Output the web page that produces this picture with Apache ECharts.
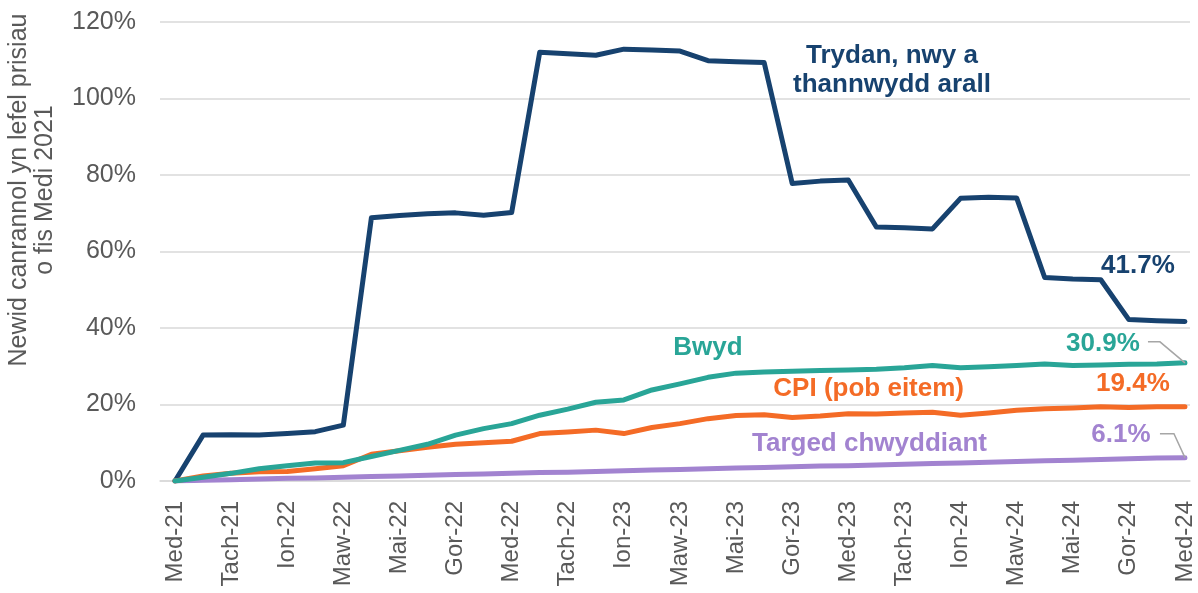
<!DOCTYPE html>
<html>
<head>
<meta charset="utf-8">
<script src="https://cdn.jsdelivr.net/npm/echarts@6/dist/echarts.min.js"></script>
<style>
  html, body { margin: 0; padding: 0; background: #fff; }
  #chart { width: 1198px; height: 593px; }
</style>
</head>
<body>
<div id="chart"></div>
<script>
var months = ['Med-21', 'Hyd-21', 'Tach-21', 'Rhag-21', 'Ion-22', 'Chwe-22', 'Maw-22', 'Ebr-22', 'Mai-22', 'Meh-22', 'Gor-22', 'Aws-22',
  'Med-22', 'Hyd-22', 'Tach-22', 'Rhag-22', 'Ion-23', 'Chwe-23', 'Maw-23', 'Ebr-23', 'Mai-23', 'Meh-23', 'Gor-23', 'Aws-23',
  'Med-23', 'Hyd-23', 'Tach-23', 'Rhag-23', 'Ion-24', 'Chwe-24', 'Maw-24', 'Ebr-24', 'Mai-24', 'Meh-24', 'Gor-24', 'Aws-24', 'Med-24'];

// newid canrannol o fis Medi 2021 (%)
var trydan = [0, 12.0, 12.1, 12.0, 12.4, 12.9, 14.6, 68.8, 69.4, 69.9, 70.1, 69.5,
  70.2, 112.1, 111.7, 111.3, 112.9, 112.7, 112.4, 109.9, 109.6, 109.4, 77.8, 78.4,
  78.7, 66.4, 66.2, 65.9, 73.9, 74.2, 74.0, 53.2, 52.8, 52.6, 42.2, 41.9, 41.7];
var bwyd = [0, 1.0, 2.0, 3.2, 4.0, 4.7, 4.8, 6.4, 8.0, 9.6, 12.0, 13.7,
  15.0, 17.2, 18.8, 20.6, 21.2, 23.8, 25.4, 27.1, 28.2, 28.5, 28.7, 28.9,
  29.0, 29.2, 29.6, 30.2, 29.6, 29.9, 30.2, 30.6, 30.2, 30.3, 30.5, 30.6, 30.9];
var cpi = [0, 1.3, 2.0, 2.4, 2.5, 3.2, 4.0, 7.0, 7.9, 8.8, 9.6, 10.0,
  10.4, 12.4, 12.8, 13.3, 12.4, 14.0, 15.0, 16.3, 17.1, 17.3, 16.6, 17.0,
  17.6, 17.5, 17.8, 18.0, 17.2, 17.8, 18.5, 18.9, 19.1, 19.4, 19.2, 19.4, 19.4];
var targed = [0, 0.2, 0.3, 0.5, 0.7, 0.8, 1.0, 1.2, 1.3, 1.5, 1.7, 1.8,
  2.0, 2.2, 2.3, 2.5, 2.7, 2.9, 3.0, 3.2, 3.4, 3.5, 3.7, 3.9,
  4.0, 4.2, 4.4, 4.6, 4.7, 4.9, 5.1, 5.3, 5.4, 5.6, 5.8, 6.0, 6.1];

var yTicks = [0, 20, 40, 60, 80, 100, 120];
var xLabelIdx = [0, 2, 4, 6, 8, 10, 12, 14, 16, 18, 20, 22, 24, 26, 28, 30, 32, 34, 36];

var NAVY = '#17426f', TEAL = '#29a597', ORANGE = '#f46b26', PURPLE = '#a283d0', GREY = '#595959';
var FONT = '"Liberation Sans", Arial, sans-serif';

function pairs(arr) { return arr.map(function (v, i) { return [i, v]; }); }

var myChart = echarts.init(document.getElementById('chart'), null, { renderer: 'canvas' });

function lineSeries(name, data, color, width) {
  return {
    name: name,
    type: 'line',
    data: pairs(data),
    showSymbol: false,
    symbol: 'none',
    animation: false,
    lineStyle: { color: color, width: width, cap: 'round', join: 'round' }
  };
}

option = {
  backgroundColor: '#fff',
  animation: false,
  grid: { left: 160, right: 8, top: 22, bottom: 112, containLabel: false, outerBoundsMode: 'none' },
  xAxis: {
    type: 'value',
    min: -0.535,
    max: 36.18,
    splitLine: { show: false },
    axisTick: { show: false },
    axisLine: { show: true, onZero: false, lineStyle: { color: '#d9d9d9', width: 1.5 } },
    axisLabel: {
      customValues: xLabelIdx,
      rotate: 90,
      margin: 20,
      color: GREY,
      fontFamily: FONT,
      fontSize: 24,
      formatter: function (v) { return months[Math.round(v)]; }
    }
  },
  yAxis: {
    type: 'value',
    min: yTicks[0],
    max: yTicks[yTicks.length - 1],
    interval: 20,
    axisLine: { show: false },
    axisTick: { show: false },
    splitLine: { lineStyle: { color: '#d9d9d9', width: 1.5 } },
    axisLabel: { color: GREY, fontFamily: FONT, fontSize: 25, margin: 24, formatter: '{value}%' }
  },
  series: [
    lineSeries('Trydan, nwy a thannwydd arall', trydan, NAVY, 5),
    lineSeries('Targed chwyddiant', targed, PURPLE, 5),
    lineSeries('CPI (pob eitem)', cpi, ORANGE, 5),
    lineSeries('Bwyd', bwyd, TEAL, 5)
  ]
};

myChart.setOption(option);

// labeli a llinellau arwain
var last = months.length - 1;
function px(v) { return myChart.convertToPixel({ gridIndex: 0 }, [last, v]); }
var pT = px(trydan[last]), pB = px(bwyd[last]), pC = px(cpi[last]), pG = px(targed[last]);

function txt(text, x, y, color, align) {
  return {
    type: 'text', x: x, y: y, z: 100,
    style: {
      text: text, fill: color, font: 'bold 26px ' + FONT,
      align: align || 'center', verticalAlign: 'middle', lineHeight: 29
    }
  };
}
function leader(points) {
  return {
    type: 'polyline', z: 99,
    shape: { points: points },
    style: { stroke: '#a6a6a6', lineWidth: 1.5, fill: null }
  };
}

myChart.setOption({
  graphic: [
    {
      type: 'text', x: 32, y: 190, rotation: Math.PI / 2, z: 100,
      style: {
        text: 'Newid canrannol yn lefel prisiau\no fis Medi 2021',
        fill: GREY, font: '25px ' + FONT, align: 'center', verticalAlign: 'middle', lineHeight: 26
      }
    },
    txt('Trydan, nwy a\nthannwydd arall', 892, 70, NAVY),
    txt('Bwyd', 708, 348, TEAL),
    txt('CPI (pob eitem)', 964, 389, ORANGE, 'right'),
    txt('Targed chwyddiant', 752, 444, PURPLE, 'left'),
    txt(trydan[last].toFixed(1) + '%', pT[0] - 47, pT[1] - 56, NAVY),
    txt(bwyd[last].toFixed(1) + '%', pB[0] - 82, pB[1] - 19, TEAL),
    txt(cpi[last].toFixed(1) + '%', pC[0] - 52, pC[1] - 23, ORANGE),
    txt(targed[last].toFixed(1) + '%', pG[0] - 64, pG[1] - 23, PURPLE),
    leader([[pB[0] - 37, pB[1] - 21], [pB[0] - 25, pB[1] - 21], [pB[0], pB[1]]]),
    leader([[pG[0] - 25, pG[1] - 24], [pG[0] - 11, pG[1] - 24], [pG[0], pG[1]]])
  ]
});
</script>
</body>
</html>
